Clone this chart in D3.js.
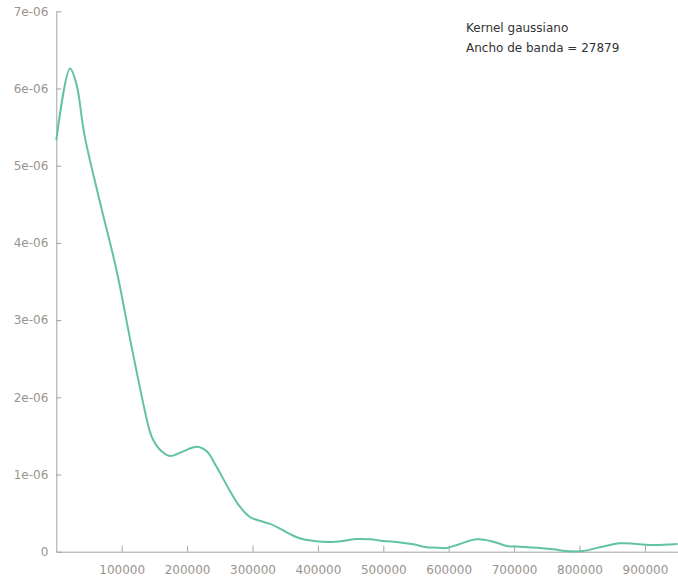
<!DOCTYPE html>
<html>
<head>
<meta charset="utf-8">
<script src="https://cdn.jsdelivr.net/npm/d3@7"></script>
<style>
  body { margin: 0; background: #fff; }
  .axis text { font-family: "DejaVu Sans", sans-serif; font-size: 12px; fill: #9a948e; }
  .axis path, .axis line { stroke: #a3a3a3; }
  .legend { font-family: "DejaVu Sans", sans-serif; font-size: 12px; fill: #333; }
</style>
</head>
<body>
<div id="chart"></div>
<script>
// kernel density estimate (x in units, y in 1e-6)
const xVals = [0, 21000, 31000, 43000, 67000, 92000, 115000,
  136000, 142000, 148000, 161000, 174000, 194000, 215000, 230000, 245000, 266000,
  281000, 296000, 311000, 327000, 342000, 357000, 373000, 393000, 418000, 439000,
  459000, 480000, 500000, 526000, 546000, 566000, 577000, 597000, 617000, 643000,
  668000, 689000, 709000, 735000, 760000, 785000, 806000, 831000, 862000, 887000,
  913000, 950000];
const densVals = [5.33, 6.26, 6.05, 5.40, 4.52, 3.65, 2.66,
  1.80, 1.59, 1.45, 1.30, 1.24, 1.30, 1.36, 1.30, 1.10, 0.78,
  0.58, 0.45, 0.40, 0.36, 0.30, 0.23, 0.17, 0.14, 0.126, 0.14,
  0.165, 0.16, 0.14, 0.12, 0.096, 0.057, 0.055, 0.048, 0.10, 0.16,
  0.13, 0.074, 0.065, 0.052, 0.031, 0.005, 0.009, 0.057, 0.109, 0.10,
  0.087, 0.10];

const xTicks = [100000, 200000, 300000, 400000, 500000, 600000, 700000, 800000, 900000];
const yTicks = [0, 1e-6, 2e-6, 3e-6, 4e-6, 5e-6, 6e-6, 7e-6];
const yTickLabels = ["0", "1e-06", "2e-06", "3e-06", "4e-06", "5e-06", "6e-06", "7e-06"];
const legendLines = ["Kernel gaussiano", "Ancho de banda = 27879"];

const width = 678, height = 580;
const plotLeft = 56.3, plotRight = 677.6, plotTop = 11.3, plotBottom = 551.7;

const svg = d3.select("#chart")
  .append("svg")
    .attr("width", width)
    .attr("height", height);

const x = d3.scaleLinear().domain([0, 950000]).range([plotLeft, plotRight]);
const y = d3.scaleLinear().domain([0, 7e-6]).range([plotBottom, plotTop]);

svg.append("g")
  .attr("class", "axis")
  .attr("transform", `translate(0,${plotBottom})`)
  .call(d3.axisBottom(x)
    .tickValues(xTicks)
    .tickFormat(d3.format("d"))
    .tickSizeInner(-6)
    .tickSizeOuter(0)
    .tickPadding(14));

svg.append("g")
  .attr("class", "axis")
  .attr("transform", `translate(${plotLeft},0)`)
  .call(d3.axisLeft(y)
    .tickValues(yTicks)
    .tickFormat((d, i) => yTickLabels[i])
    .tickSizeInner(-5)
    .tickSizeOuter(0)
    .tickPadding(8));

// let the css decide font
svg.selectAll(".axis").attr("font-size", null).attr("font-family", null);

const pts = xVals.map((v, i) => [v, densVals[i] * 1e-6]);

const line = d3.line()
  .x(d => x(d[0]))
  .y(d => y(d[1]))
  .curve(d3.curveCatmullRom.alpha(0.5));

svg.append("path")
  .datum(pts)
  .attr("fill", "none")
  .attr("stroke", "#62c3a1")
  .attr("stroke-width", 2)
  .attr("d", line);

svg.selectAll(".legend")
  .data(legendLines)
  .enter()
  .append("text")
    .attr("class", "legend")
    .attr("x", 466)
    .attr("y", (d, i) => 32 + i * 20)
    .text(d => d);
</script>
</body>
</html>
